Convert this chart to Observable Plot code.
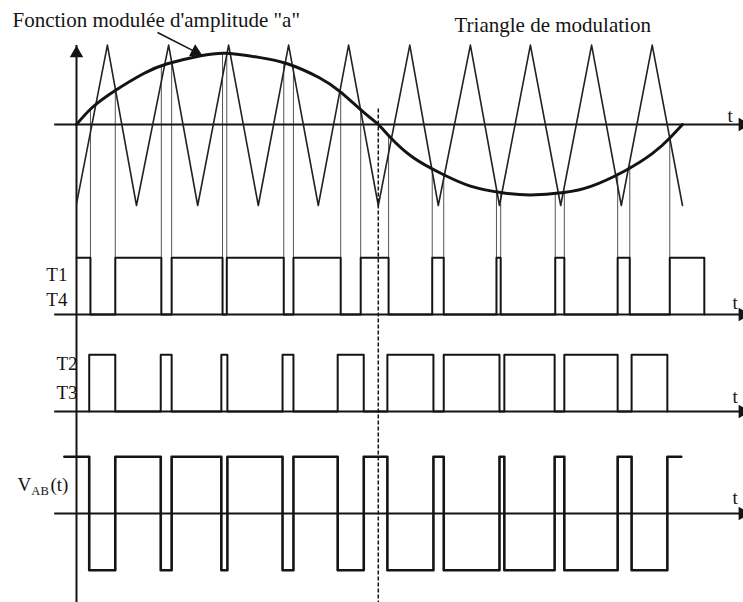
<!DOCTYPE html>
<html><head><meta charset="utf-8">
<script src="https://cdn.jsdelivr.net/npm/d3@7"></script>
<script src="https://cdn.jsdelivr.net/npm/@observablehq/plot@0.6"></script>
<style>html,body{margin:0;padding:0;background:#fff;} #chart svg{display:block;}</style>
</head><body><div id="chart"></div>
<script>
// ---- data (t in carrier periods, values in carrier amplitudes) ----
const sineT = [0, 0.26, 0.64, 1.11, 1.5, 2.05, 2.49, 3.0, 3.48, 4.0, 4.36, 4.74, 4.98, 5.18, 5.56, 6.06, 6.5, 7.0, 7.49, 8.04, 8.5, 9.03, 9.5, 9.8, 10];
const sineV = [0, 0.21, 0.42, 0.63, 0.75, 0.85, 0.88, 0.83, 0.75, 0.58, 0.40, 0.15, 0, -0.16, -0.41, -0.62, -0.76, -0.84, -0.87, -0.84, -0.76, -0.58, -0.36, -0.16, 0];
const triT = [0, 0.51, 0.99, 1.52, 2.00, 2.51, 3.00, 3.50, 3.99, 4.49, 4.98, 5.50, 5.97, 6.50, 6.98, 7.49, 7.99, 8.50, 8.99, 9.50, 10.0];
const triV = [-0.98, 0.98, -1, 0.98, -1, 0.98, -1, 0.98, -1, 0.98, -1, 0.98, -1, 0.98, -1, 0.98, -1, 0.98, -1, 0.98, -1];
// switching instants of T1/T4 (on at t=0, toggles at each edge)
const t14Edges = [0.23, 0.64, 1.40, 1.57, 2.41, 2.48, 3.42, 3.58, 4.36, 4.69, 5.15, 5.87, 6.06, 6.93, 7.00, 7.90, 8.05, 8.93, 9.13, 9.79, 10.36];
// level of the sine/triangle intersection above each switching instant
const guideTop = [0.20, 0.42, 0.72, 0.77, 0.87, 0.88, 0.76, 0.71, 0.40, 0.17, -0.15, -0.58, -0.63, -0.84, -0.84, -0.85, -0.84, -0.60, -0.50, -0.16];
// switching instants of T2/T3 (on between each pair)
const t23Edges = [0.21, 0.64, 1.39, 1.57, 2.39, 2.49, 3.40, 3.58, 4.31, 4.74, 5.13, 5.89, 6.06, 6.98, 7.06, 7.89, 8.05, 8.93, 9.16, 9.75];
const vabStart = -0.2, vabEnd = 9.98;
const zeroCross = 4.98;
const titleText = ["Fonction modulée d'amplitude \"a\"", "Triangle de modulation"];
const panelLabels = ["T1", "T4", "T2", "T3"];
const axisLabel = "t";

// ---- layout (y units = carrier amplitude; panel baselines) ----
const L = {yMin: -5.901, yMax: 1.531, top: 0, t14: -2.346, t23: -3.543, vab: -4.802, h: 0.70, ax0: -0.36, ax1: 11.0};

const sine = sineT.map((t, i) => ({t, v: sineV[i]}));
const tri = triT.map((t, i) => ({t, v: triV[i]}));
const guides = t14Edges.slice(0, guideTop.length).map((t, i) => ({t, top: guideTop[i]}));

const p14 = [];
{ let on = true; p14.push({t: 0, v: L.t14 + L.h});
  for (const e of t14Edges) { p14.push({t: e, v: L.t14 + (on ? L.h : 0)}); on = !on; p14.push({t: e, v: L.t14 + (on ? L.h : 0)}); } }
const p23 = [];
{ let on = false; p23.push({t: t23Edges[0], v: L.t23});
  for (const e of t23Edges) { p23.push({t: e, v: L.t23 + (on ? L.h : 0)}); on = !on; p23.push({t: e, v: L.t23 + (on ? L.h : 0)}); } }
const pab = [];
{ let hi = true; pab.push({t: vabStart, v: L.vab + L.h});
  for (const e of t23Edges) { pab.push({t: e, v: L.vab + (hi ? L.h : -L.h)}); hi = !hi; pab.push({t: e, v: L.vab + (hi ? L.h : -L.h)}); }
  pab.push({t: vabEnd, v: L.vab + L.h}); }

const axesY = [L.top, L.t14, L.t23, L.vab];
const serif = "Liberation Serif, Times New Roman, serif";
const ink = "#141414";

const texts = [
  {x: -1.056, y: 1.198, s: titleText[0], a: "start", f: 21},
  {x: 6.238, y: 1.148, s: titleText[1], a: "start", f: 21},
  {x: -0.149, y: -1.926, s: panelLabels[0], a: "end", f: 19},
  {x: -0.149, y: -2.235, s: panelLabels[1], a: "end", f: 19},
  {x: 0.017, y: -3.025, s: panelLabels[2], a: "end", f: 19},
  {x: 0.017, y: -3.383, s: panelLabels[3], a: "end", f: 19},
  {x: 10.743, y: 0.037, s: axisLabel, a: "start", f: 19},
  {x: 10.825, y: -2.272, s: axisLabel, a: "start", f: 19},
  {x: 10.825, y: -3.444, s: axisLabel, a: "start", f: 19},
  {x: 10.825, y: -4.679, s: axisLabel, a: "start", f: 19},
  {x: -0.974, y: -4.519, s: "V", a: "start", f: 19},
  {x: -0.745, y: -4.568, s: "AB", a: "start", f: 12.5},
  {x: -0.43, y: -4.519, s: "(t)", a: "start", f: 19}
];

const chart = Plot.plot({
  width: 743, height: 602,
  marginLeft: 76, marginRight: 61, marginTop: 0, marginBottom: 0,
  x: {domain: [0, 10], axis: null},
  y: {domain: [L.yMin, L.yMax], axis: null},
  style: {background: "#fff", overflow: "visible"},
  marks: [
    Plot.ruleX(guides, {x: "t", y1: "top", y2: L.t14 + L.h, stroke: "#555", strokeWidth: 1}),
    Plot.ruleY(axesY, {x1: L.ax0, x2: L.ax1, stroke: ink, strokeWidth: 2}),
    Plot.ruleX([0], {y1: L.yMin, y2: 0.975, stroke: ink, strokeWidth: 2}),
    Plot.line(tri, {x: "t", y: "v", stroke: "#222", strokeWidth: 1.6}),
    Plot.line(sine, {x: "t", y: "v", curve: "natural", stroke: ink, strokeWidth: 3}),
    Plot.line(p14, {x: "t", y: "v", stroke: ink, strokeWidth: 2}),
    Plot.line(p23, {x: "t", y: "v", stroke: ink, strokeWidth: 2}),
    Plot.line(pab, {x: "t", y: "v", stroke: ink, strokeWidth: 2.6, strokeLinejoin: "round"}),
    Plot.ruleX([zeroCross], {y1: 0.19, y2: L.yMin, stroke: ink, strokeWidth: 1.5, strokeDasharray: "4,2"}),
    Plot.dot([0], {x: 0, y: 0.975, dy: 7.8, symbol: "triangle", r: 5, fill: ink, stroke: "none"}),
    Plot.dot(axesY, {x: 10.99, y: d => d, rotate: 90, symbol: "triangle", r: 5, fill: ink, stroke: "none"}),
    Plot.link([0], {x1: 1.337, y1: 1.136, x2: 1.964, y2: 0.896, stroke: ink, strokeWidth: 1.5}),
    Plot.dot([0], {x: 1.964, y: 0.896, rotate: 117, symbol: "triangle", r: 5, fill: ink, stroke: "none"}),
    Plot.text(texts, {x: "x", y: "y", text: "s", textAnchor: "start", lineAnchor: "bottom", fontFamily: serif, fontSize: "f", fill: ink, filter: d => d.a === "start"}),
    Plot.text(texts, {x: "x", y: "y", text: "s", textAnchor: "end", lineAnchor: "bottom", fontFamily: serif, fontSize: "f", fill: ink, filter: d => d.a === "end"})
  ]
});
document.getElementById("chart").append(chart);
</script>
</body></html>
